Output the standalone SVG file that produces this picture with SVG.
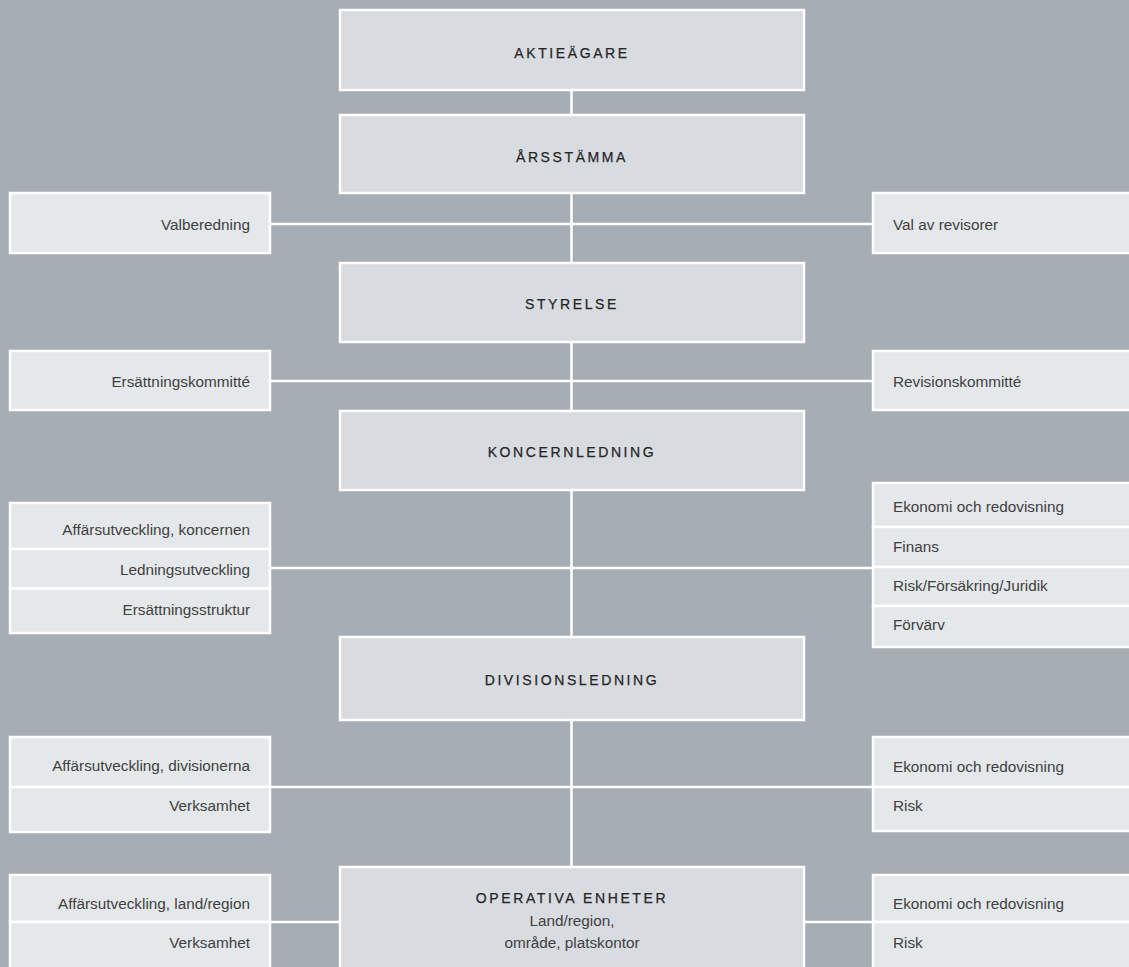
<svg xmlns="http://www.w3.org/2000/svg" width="1129" height="967" viewBox="0 0 1129 967">
<style>
.main{fill:#d8dbe0;stroke:#fff;stroke-width:2.5}
.side{fill:#e5e8eb;stroke:#fff;stroke-width:2.5}
.ln{stroke:#fff;stroke-width:2.5;fill:none}
.t1{font-family:"Liberation Sans",Arial,sans-serif;font-size:14px;letter-spacing:2.6px;fill:#262626;text-anchor:middle;stroke:#262626;stroke-width:0.25}
.t2{font-family:"Liberation Sans",Arial,sans-serif;font-size:15.3px;fill:#404040}
.r{text-anchor:end}
.m{text-anchor:middle}
</style>
<rect x="0" y="0" width="1129" height="967" fill="#a6adb5"/>
<g id="connectors">
<line class="ln" x1="571.5" y1="90" x2="571.5" y2="867"/>
<line class="ln" x1="270" y1="224" x2="873" y2="224"/>
<line class="ln" x1="270" y1="381" x2="873" y2="381"/>
<line class="ln" x1="270" y1="568" x2="873" y2="568"/>
<line class="ln" x1="270" y1="787" x2="873" y2="787"/>
<line class="ln" x1="270" y1="922" x2="340" y2="922"/>
<line class="ln" x1="804" y1="922" x2="873" y2="922"/>
</g>
<g id="aktieagare"><rect class="main" x="340" y="10" width="464" height="80"/><text class="t1" x="572" y="58">AKTIEÄGARE</text></g>
<g id="arsstamma"><rect class="main" x="340" y="115" width="464" height="78"/><text class="t1" x="572" y="162">ÅRSSTÄMMA</text></g>
<g id="valberedning"><rect class="side" x="10" y="193" width="260" height="60"/><text class="t2 r" x="250" y="230">Valberedning</text></g>
<g id="val-av-revisorer"><rect class="side" x="873" y="193" width="270" height="60"/><text class="t2" x="893" y="230">Val av revisorer</text></g>
<g id="styrelse"><rect class="main" x="340" y="263" width="464" height="79"/><text class="t1" x="572" y="309">STYRELSE</text></g>
<g id="ersattningskommitte"><rect class="side" x="10" y="351" width="260" height="59"/><text class="t2 r" x="250" y="387">Ersättningskommitté</text></g>
<g id="revisionskommitte"><rect class="side" x="873" y="351" width="270" height="59"/><text class="t2" x="893" y="387">Revisionskommitté</text></g>
<g id="koncernledning"><rect class="main" x="340" y="411" width="464" height="79"/><text class="t1" x="572" y="457">KONCERNLEDNING</text></g>
<g id="koncern-vanster">
<rect class="side" x="10" y="503" width="260" height="46"/><text class="t2 r" x="250" y="535">Affärsutveckling, koncernen</text>
<rect class="side" x="10" y="549" width="260" height="39.5"/><text class="t2 r" x="250" y="575">Ledningsutveckling</text>
<rect class="side" x="10" y="588.5" width="260" height="44.5"/><text class="t2 r" x="250" y="615">Ersättningsstruktur</text>
</g>
<g id="koncern-hoger">
<rect class="side" x="873" y="483" width="270" height="44"/><text class="t2" x="893" y="512">Ekonomi och redovisning</text>
<rect class="side" x="873" y="527" width="270" height="40"/><text class="t2" x="893" y="552">Finans</text>
<rect class="side" x="873" y="567" width="270" height="39"/><text class="t2" x="893" y="591">Risk/Försäkring/Juridik</text>
<rect class="side" x="873" y="606" width="270" height="41"/><text class="t2" x="893" y="630">Förvärv</text>
</g>
<g id="divisionsledning"><rect class="main" x="340" y="637" width="464" height="83"/><text class="t1" x="572" y="685">DIVISIONSLEDNING</text></g>
<g id="division-vanster">
<rect class="side" x="10" y="737" width="260" height="50"/><text class="t2 r" x="250" y="771">Affärsutveckling, divisionerna</text>
<rect class="side" x="10" y="787" width="260" height="45"/><text class="t2 r" x="250" y="811">Verksamhet</text>
</g>
<g id="division-hoger">
<rect class="side" x="873" y="737" width="270" height="50"/><text class="t2" x="893" y="772">Ekonomi och redovisning</text>
<rect class="side" x="873" y="787" width="270" height="44"/><text class="t2" x="893" y="811">Risk</text>
</g>
<g id="operativa-enheter"><rect class="main" x="340" y="867" width="464" height="110"/>
<text class="t1" x="572" y="903">OPERATIVA ENHETER</text>
<text class="t2 m" x="572" y="926">Land/region,</text>
<text class="t2 m" x="572" y="948">område, platskontor</text>
</g>
<g id="operativa-vanster">
<rect class="side" x="10" y="875" width="260" height="47"/><text class="t2 r" x="250" y="909">Affärsutveckling, land/region</text>
<rect class="side" x="10" y="922" width="260" height="55"/><text class="t2 r" x="250" y="948">Verksamhet</text>
</g>
<g id="operativa-hoger">
<rect class="side" x="873" y="875" width="270" height="47"/><text class="t2" x="893" y="909">Ekonomi och redovisning</text>
<rect class="side" x="873" y="922" width="270" height="55"/><text class="t2" x="893" y="948">Risk</text>
</g>
</svg>
